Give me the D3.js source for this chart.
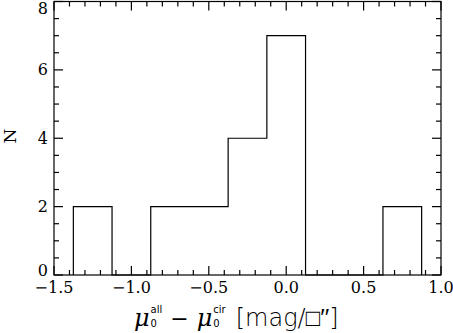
<!DOCTYPE html>
<html>
<head>
<meta charset="utf-8">
<script src="https://cdn.jsdelivr.net/npm/d3@7"></script>
<style>
  body { margin: 0; background: #fff; }
  svg { display: block; }
</style>
</head>
<body>
<div id="chart"></div>
<script>
// histogram data
const binEdges = [-1.375, -1.125, -0.875, -0.625, -0.375, -0.125, 0.125, 0.375, 0.625, 0.875];
const counts = [2, 0, 2, 2, 4, 7, 0, 0, 2];
const xTicks = [-1.5, -1.0, -0.5, 0.0, 0.5, 1.0];
const yTicks = [0, 2, 4, 6, 8];

const width = 453, height = 333;
const plot = {left: 54, right: 441, top: 1.5, bottom: 275};

let svg = d3.select("#chart")
  .append("svg")
  .attr("width", width)
  .attr("height", height);

var xScale = d3.scaleLinear().domain([-1.5, 1.0]).range([plot.left, plot.right]);
var yScale = d3.scaleLinear().domain([0, 8]).range([plot.bottom, plot.top]);

const tickFont = "'DejaVu Serif', 'Liberation Serif', serif";
const sansFont = "'DejaVu Sans', sans-serif";

// frame
svg.append("rect")
  .attr("x", plot.left).attr("y", plot.top)
  .attr("width", plot.right - plot.left)
  .attr("height", plot.bottom - plot.top)
  .attr("fill", "none").attr("stroke", "#000").attr("stroke-width", 1.2);

// ticks on all four sides, major + minor
var xMinor = d3.range(-15, 11).map(d => d / 10);
var yMinor = d3.range(0, 17).map(d => d / 2);

function isMajor(v, step) { return Math.abs(v / step - Math.round(v / step)) < 1e-6; }

var ticks = svg.append("g").attr("stroke", "#000").attr("stroke-width", 1.2);
xMinor.forEach(function(v) {
  var len = isMajor(v, 0.5) ? 9 : 5;
  var x = xScale(v);
  ticks.append("line").attr("x1", x).attr("x2", x).attr("y1", plot.bottom).attr("y2", plot.bottom - len);
  ticks.append("line").attr("x1", x).attr("x2", x).attr("y1", plot.top).attr("y2", plot.top + len);
});
yMinor.forEach(function(v) {
  var len = isMajor(v, 2) ? 9 : 5;
  var y = yScale(v);
  ticks.append("line").attr("x1", plot.left).attr("x2", plot.left + len).attr("y1", y).attr("y2", y);
  ticks.append("line").attr("x1", plot.right).attr("x2", plot.right - len).attr("y1", y).attr("y2", y);
});

// tick labels
svg.append("g").selectAll("text")
  .data(xTicks).enter().append("text")
  .attr("x", d => xScale(d))
  .attr("y", plot.bottom + 18)
  .attr("text-anchor", "middle")
  .attr("font-family", tickFont)
  .attr("font-size", 16)
  .text(d => (d < 0 ? "\u2212" : "") + Math.abs(d).toFixed(1));

svg.append("g").selectAll("text")
  .data(yTicks).enter().append("text")
  .attr("x", plot.left - 6)
  .attr("y", function(d) {
    var y = yScale(d) + 5.5;
    if (d === 0) y -= 5;
    if (d === 8) y += 7;
    return y;
  })
  .attr("text-anchor", "end")
  .attr("font-family", tickFont)
  .attr("font-size", 16)
  .text(d => d);

// histogram outline as one step line
var pts = [[binEdges[0], 0]];
counts.forEach(function(c, i) { pts.push([binEdges[i], c]); });
pts.push([binEdges[binEdges.length - 1], counts[counts.length - 1]]);
pts.push([binEdges[binEdges.length - 1], 0]);
var step = d3.line().x(d => xScale(d[0])).y(d => yScale(d[1])).curve(d3.curveStepAfter);
svg.append("path")
  .attr("d", step(pts))
  .attr("fill", "none").attr("stroke", "#000").attr("stroke-width", 1.2);

// y label
svg.append("text")
  .attr("transform", "translate(16," + 136 + ") rotate(-90)")
  .attr("text-anchor", "middle")
  .attr("font-family", tickFont)
  .attr("font-size", 17)
  .text("N");

// x label, laid out piece by piece
var base = 326;
var cx = 134;
var lab = svg.append("g");
function put(str, opts) {
  var t = lab.append("text")
    .attr("x", cx + (opts.dx || 0))
    .attr("y", base + (opts.dy || 0))
    .attr("font-family", opts.family)
    .attr("font-size", opts.size)
    .text(str);
  if (opts.italic) t.attr("font-style", "italic");
  if (opts.weight) t.attr("font-weight", opts.weight);
  return t.node().getComputedTextLength() + (opts.dx || 0);
}
function muTerm(sup) {
  cx += put("\u03bc", {family: tickFont, size: 24, italic: true});
  var w1 = put(sup, {family: sansFont, size: 10, dy: -13, dx: 1});
  var w2 = put("0", {family: sansFont, size: 10, dy: 1, dx: 1});
  cx += Math.max(w1, w2);
}
muTerm("all");
cx += 8;
cx += put("\u2212", {family: tickFont, size: 22});
cx += 8;
muTerm("cir");
cx += 10;
put("[mag/\u25a1\u2032\u2032]", {family: sansFont, size: 24, weight: 200});
</script>
</body>
</html>
